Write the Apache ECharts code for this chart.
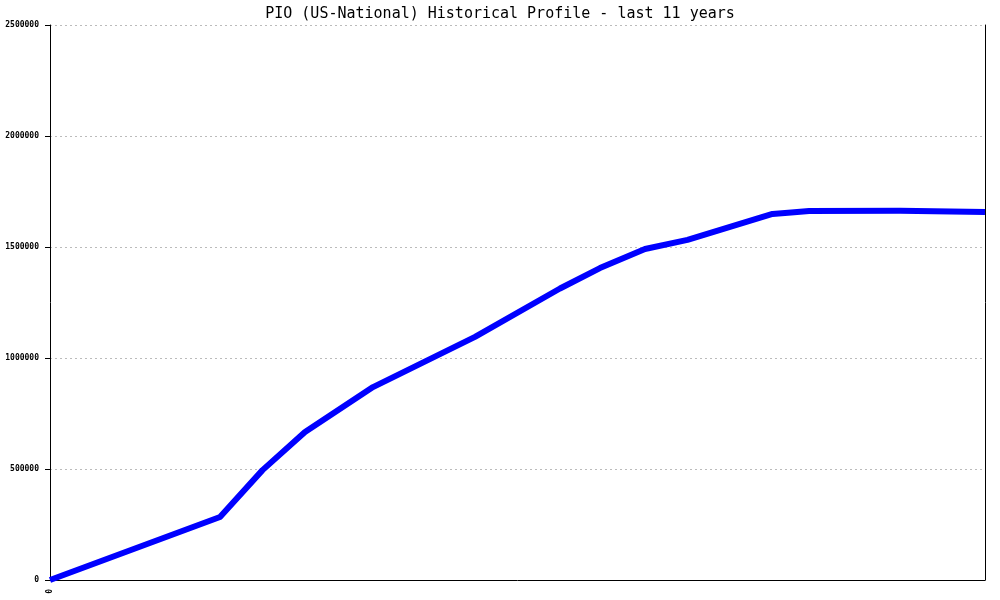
<!DOCTYPE html>
<html>
<head>
<meta charset="utf-8">
<script src="https://cdn.jsdelivr.net/npm/echarts@6/dist/echarts.min.js"></script>
<style>html,body{margin:0;padding:0;background:#fff;}#c{width:1000px;height:600px;}</style>
</head>
<body>
<div id="c"></div>
<script>
var title = 'PIO (US-National) Historical Profile - last 11 years';
// time position in years since start
var years = [0, 2.0, 2.5, 3.0, 3.8, 5.0, 6.0, 6.47, 7.0, 7.5, 8.5, 8.72, 8.93, 10.0, 11.0];
var values = [0, 284000, 495000, 667000, 869000, 1095000, 1313000, 1405000, 1491000, 1532000, 1649000, 1655000, 1662000, 1663000, 1658000];
var yTicks = [0, 500000, 1000000, 1500000, 2000000, 2500000];
var xLabels = ['0'];

var data = years.map(function (x, i) { return [x, values[i]]; });
var chart = echarts.init(document.getElementById('c'));
var font = 'DejaVu Sans Mono';
chart.setOption({
  animation: false,
  backgroundColor: '#fff',
  title: {
    text: title, left: 'center', top: 2,
    textStyle: { fontFamily: font, fontSize: 15, fontWeight: 'normal', color: '#000' }
  },
  grid: { left: 50, right: 15, top: 25, bottom: 20, containLabel: false },
  xAxis: {
    type: 'value', min: 0, max: 11, interval: 11,
    axisLine: { show: true, onZero: false, lineStyle: { color: '#000', width: 1 } },
    axisTick: { show: false },
    splitLine: { show: false },
    axisLabel: {
      rotate: 90, margin: 9,
      fontFamily: font, fontSize: 8, fontWeight: 'bold', color: '#000',
      formatter: function (v) { return v === 0 ? xLabels[0] : ''; }
    }
  },
  yAxis: [{
    type: 'value', min: yTicks[0], max: yTicks[yTicks.length - 1], interval: yTicks[1] - yTicks[0],
    axisLine: { show: true, lineStyle: { color: '#000', width: 1 } },
    axisTick: { show: true, length: 5, lineStyle: { color: '#000' } },
    splitLine: { show: true, lineStyle: { color: '#bbb', type: [2, 3], width: 1 } },
    axisLabel: {
      margin: 11, fontFamily: font, fontSize: 8, fontWeight: 'bold', color: '#000',
      formatter: function (v) { return String(v); }
    }
  }, {
    type: 'value', position: 'right', min: 0, max: 2500000,
    axisLine: { show: true, lineStyle: { color: '#000', width: 1 } },
    axisTick: { show: false }, axisLabel: { show: false }, splitLine: { show: false }
  }],
  series: [{
    type: 'line', data: data, yAxisIndex: 0,
    showSymbol: false, symbol: 'none',
    lineStyle: { color: '#0000ff', width: 6, join: 'round' },
    itemStyle: { color: '#0000ff' }
  }]
});
</script>
</body>
</html>
